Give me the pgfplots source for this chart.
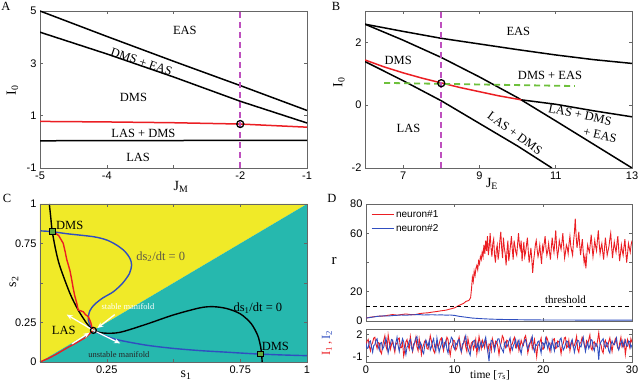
\documentclass[border=0pt]{standalone}
\usepackage{fontspec}
\setmainfont{Liberation Serif}
\newfontfamily\sansf{Liberation Sans}
\usepackage{pgfplots}
\usepackage{pgfplotstable}
\pgfplotsset{compat=1.18}
\usetikzlibrary{arrows.meta}

\definecolor{myyellow}{RGB}{240,234,40}
\definecolor{myteal}{RGB}{38,184,174}
\definecolor{myred}{RGB}{235,30,35}
\definecolor{myblue}{RGB}{48,78,192}
\definecolor{mymag}{RGB}{190,80,190}
\definecolor{mygreen}{RGB}{110,192,60}
\definecolor{sqgreen}{RGB}{95,170,60}
\definecolor{nullgray}{RGB}{95,90,70}

\pgfplotsset{
  base/.style={scale only axis, anchor=south west,
    axis line style={black!60, line width=0.5pt},
    major tick style={black!60, line width=0.5pt},
    major tick length=3pt, tick align=inside,
    tick label style={font=\sansf\fontsize{11}{12}\selectfont},
    /pgf/number format/assume math mode=true}
}
\tikzset{reg/.style={font=\fontsize{12.5}{13}\selectfont, inner sep=0pt}}

\pgfplotstableread[row sep=\\]{
t r\\
0 2\\ 0.5 2.6\\ 1 3\\ 1.5 3.3\\ 2 3.4\\ 2.5 3.9\\ 3 4.4\\ 3.5 4\\ 4 4.4\\ 4.5 4.8\\ 5 4.4\\ 5.5 4.3\\ 6 5\\ 6.5 5.4\\ 7 5.6\\ 7.5 6.1\\ 8 6.5\\ 8.5 7\\ 9 7.4\\ 9.5 8.2\\ 10 9\\ 10.3 10\\ 10.6 11\\ 11 12\\ 11.3 13.5\\ 11.6 14\\ 11.8 16\\ 11.9 22\\ 12.0 30\\ 12.1 27\\ 12.2 34\\ 12.3 31\\ 12.4 36\\ 12.5 38\\ 12.6 35\\ 12.7 41\\ 12.8 39\\ 12.9 44\\ 13.0 42\\ 13.1 47\\ 13.2 44\\ 13.3 52\\ 13.4 46\\ 13.5 55\\ 13.6 48\\ 13.7 58\\ 13.8 45\\ 13.9 51\\
14.0 60\\ 14.1 50\\ 14.2 44\\ 14.3 53\\ 14.4 56\\ 14.5 45\\ 14.6 40\\ 14.7 49\\ 14.8 52\\ 14.9 42\\ 15.0 47\\ 15.1 55\\ 15.2 61\\ 15.3 50\\ 15.4 43\\ 15.5 57\\ 15.6 50\\ 15.7 46\\ 15.8 38\\ 15.9 48\\ 16.0 55\\ 16.1 41\\ 16.2 46\\ 16.3 52\\ 16.4 58\\ 16.5 49\\ 16.6 42\\ 16.7 55\\ 16.8 51\\ 16.9 47\\ 17.0 45\\ 17.1 53\\ 17.2 60\\ 17.3 52\\ 17.4 49\\ 17.5 55\\ 17.6 41\\ 17.7 48\\ 17.8 54\\ 17.9 44\\ 18.0 47\\ 18.1 52\\ 18.2 57\\ 18.3 48\\ 18.4 40\\ 18.5 45\\ 18.6 50\\ 18.7 42\\ 18.8 33\\ 18.9 41\\ 19.0 46\\ 19.1 52\\ 19.2 55\\ 19.3 49\\ 19.4 44\\ 19.5 47\\ 19.6 52\\ 19.7 45\\ 19.8 39\\ 19.9 51\\ 20.0 48\\ 20.1 53\\ 20.2 58\\ 20.3 50\\ 20.4 45\\ 20.5 48\\ 20.6 53\\ 20.7 47\\ 20.8 42\\ 20.9 50\\ 21.0 57\\ 21.1 51\\ 21.2 47\\ 21.3 54\\ 21.4 62\\ 21.5 50\\ 21.6 44\\ 21.7 48\\ 21.8 55\\ 21.9 52\\ 22.0 49\\ 22.1 54\\ 22.2 60\\ 22.3 51\\ 22.4 43\\ 22.5 47\\ 22.6 52\\ 22.7 50\\ 22.8 46\\ 22.9 53\\ 23.0 58\\ 23.1 51\\ 23.2 48\\ 23.3 45\\ 23.4 54\\ 23.5 60\\ 23.6 70\\ 23.7 58\\ 23.8 50\\ 23.9 55\\ 24.0 61\\ 24.1 52\\ 24.2 45\\ 24.3 51\\ 24.4 56\\ 24.5 47\\ 24.6 40\\ 24.7 44\\ 24.8 36\\ 24.9 45\\ 25.0 52\\ 25.1 49\\ 25.2 47\\ 25.3 53\\ 25.4 59\\ 25.5 51\\ 25.6 44\\ 25.7 49\\ 25.8 55\\ 25.9 51\\ 26.0 48\\ 26.1 55\\ 26.2 62\\ 26.3 53\\ 26.4 46\\ 26.5 50\\ 26.6 53\\ 26.7 47\\ 26.8 42\\ 26.9 50\\ 27.0 57\\ 27.1 51\\ 27.2 45\\ 27.3 48\\ 27.4 51\\ 27.5 56\\ 27.6 60\\ 27.7 51\\ 27.8 43\\ 27.9 49\\ 28.0 54\\ 28.1 50\\ 28.2 47\\ 28.3 53\\ 28.4 58\\ 28.5 49\\ 28.6 41\\ 28.7 46\\ 28.8 52\\ 28.9 48\\ 29.0 45\\ 29.1 51\\ 29.2 56\\ 29.3 47\\ 29.4 40\\ 29.5 46\\ 29.6 53\\ 29.7 50\\ 29.8 47\\ 29.9 52\\ 30.0 55\\
}\redtop

\pgfplotstableread[row sep=\\]{
t r\\
0 2\\ 0.5 2.4\\ 1 2.9\\ 1.5 3.3\\ 2 3.5\\ 2.5 3.4\\ 3 3.7\\ 3.5 3.9\\ 4 4.1\\ 4.5 3.9\\ 5 4.2\\ 5.5 4.3\\ 6 4.4\\ 6.5 4.1\\ 7 4.2\\ 7.5 4.3\\ 8 4.1\\ 8.5 4.2\\ 9 4.0\\ 9.5 4.1\\ 10 3.8\\ 10.5 3.2\\ 11 2.8\\ 11.5 2.4\\ 12 2.0\\ 12.5 1.8\\ 13 1.6\\ 14 1.3\\ 15 1.1\\ 16 1.0\\ 18 0.8\\ 20 0.7\\ 22 0.7\\ 25 0.6\\ 28 0.6\\ 30 0.6\\
}\bluetop

\pgfplotstableread[row sep=\\]{
t a b\\
0 0.5 0.8\\ 0.125 1.1 0.1\\ 0.25 1.3 0.2\\ 0.375 0.4 1.0\\ 0.5 -0.2 1.1\\ 0.625 0.6 0.3\\ 0.75 0.9 -0.4\\ 0.875 1.5 0.5\\
1 1.6 0.6\\ 1.125 0.7 1.2\\ 1.25 0.1 1.4\\ 1.375 0.9 0.4\\ 1.5 0.8 -0.1\\ 1.625 -0.3 0.8\\ 1.75 -0.6 0.9\\ 1.875 0.5 0.0\\
2 1.2 0.3\\ 2.125 1.8 1.0\\ 2.25 0.4 1.5\\ 2.375 -0.1 0.6\\ 2.5 1.9 -0.5\\ 2.625 1.0 0.2\\ 2.75 0.0 0.7\\ 2.875 0.6 1.3\\
3 1.1 1.2\\ 3.125 0.3 0.4\\ 3.25 -0.4 0.0\\ 3.375 0.8 0.9\\ 3.5 0.7 1.6\\ 3.625 1.4 0.5\\ 3.75 1.5 -0.3\\ 3.875 0.2 0.6\\
4 0.2 0.8\\ 4.125 0.9 1.4\\ 4.25 -0.9 1.0\\ 4.375 -0.2 0.1\\ 4.5 1.0 -0.7\\ 4.625 1.3 0.3\\ 4.75 0.5 0.5\\ 4.875 0.0 1.1\\
5 1.7 1.3\\ 5.125 0.8 0.2\\ 5.25 -0.3 -0.2\\ 5.375 0.4 0.7\\ 5.5 0.9 0.9\\ 5.625 1.6 1.5\\ 5.75 0.3 1.7\\ 5.875 -0.2 0.4\\
6 1.4 0.1\\ 6.125 0.5 0.9\\ 6.25 -0.7 0.6\\ 6.375 0.2 -0.3\\ 6.5 0.6 -0.6\\ 6.625 1.1 0.5\\ 6.75 1.2 1.2\\ 6.875 0.1 0.8\\
7 0.0 0.4\\ 7.125 0.9 1.1\\ 7.25 1.8 -0.1\\ 7.375 1.1 0.3\\ 7.5 0.4 1.0\\ 7.625 -0.2 1.4\\ 7.75 -0.5 0.3\\ 7.875 0.6 -0.2\\
8 1.0 1.5\\ 8.125 0.2 0.6\\ 8.25 0.7 -0.4\\ 8.375 1.3 0.2\\ 8.5 1.5 0.7\\ 8.625 0.4 1.3\\ 8.75 -0.2 0.2\\ 8.875 0.9 0.5\\
9 0.8 1.1\\ 9.125 1.6 0.0\\ 9.25 1.3 -0.5\\ 9.375 0.0 0.7\\ 9.5 -0.8 0.9\\ 9.625 0.3 1.6\\ 9.75 0.6 1.4\\ 9.875 1.2 0.3\\
10 1.1 0.0\\ 10.125 -0.1 0.8\\ 10.25 0.2 0.6\\ 10.375 1.0 1.2\\ 10.5 1.6 1.3\\ 10.625 0.7 0.1\\ 10.75 -0.4 -0.3\\ 10.875 0.3 0.7\\
11 0.9 0.8\\ 11.125 1.5 1.3\\ 11.25 0.3 1.8\\ 11.375 -0.3 0.5\\ 11.5 1.4 0.1\\ 11.625 0.6 -0.4\\ 11.75 -0.1 -0.8\\ 11.875 0.8 0.4\\
12 1.0 0.7\\ 12.125 0.0 1.1\\ 12.25 0.5 1.2\\ 12.375 1.3 0.2\\ 12.5 -0.6 0.3\\ 12.625 0.4 0.9\\ 12.75 1.7 -0.2\\ 12.875 0.9 0.6\\
13 0.1 1.0\\ 13.125 1.2 0.3\\ 13.25 0.8 0.5\\ 13.375 0.2 1.1\\ 13.5 1.2 1.6\\ 13.625 0.6 0.4\\ 13.75 -0.3 -0.4\\ 13.875 0.7 -1.6\\
14 0.6 0.4\\ 14.125 -0.2 1.2\\ 14.25 1.4 1.1\\ 14.375 0.8 0.5\\ 14.5 0.0 -0.2\\ 14.625 1.1 0.6\\ 14.75 1.0 0.9\\ 14.875 0.3 1.4\\
15 -0.7 1.4\\ 15.125 0.4 0.7\\ 15.25 0.9 0.2\\ 15.375 1.8 -0.1\\ 15.5 1.5 -0.4\\ 15.625 0.5 0.8\\ 15.75 0.2 1.0\\ 15.875 1.2 0.3\\
16 1.1 0.6\\ 16.125 0.3 1.1\\ 16.25 -0.4 1.5\\ 16.375 0.6 0.4\\ 16.5 0.7 -0.1\\ 16.625 1.3 0.5\\ 16.75 1.6 0.8\\ 16.875 0.2 1.3\\
17 0.3 0.3\\ 17.125 1.0 0.9\\ 17.25 -0.2 1.2\\ 17.375 0.4 0.0\\ 17.5 1.2 -0.6\\ 17.625 0.7 0.4\\ 17.75 0.5 0.7\\ 17.875 1.5 1.1\\
18 1.8 1.3\\ 18.125 0.9 0.5\\ 18.25 -0.5 0.0\\ 18.375 0.2 0.6\\ 18.5 0.8 0.9\\ 18.625 1.4 1.2\\ 18.75 0.1 1.7\\ 18.875 0.6 0.2\\
19 1.3 -0.3\\ 19.125 0.2 0.6\\ 19.25 -1.0 0.5\\ 19.375 0.5 1.0\\ 19.5 0.6 1.1\\ 19.625 1.0 0.2\\ 19.75 1.5 -0.5\\ 19.875 0.0 0.9\\
20 0.0 0.8\\ 20.125 0.7 0.3\\ 20.25 0.9 1.4\\ 20.375 1.6 0.7\\ 20.5 1.2 0.1\\ 20.625 0.3 0.9\\ 20.75 -0.3 0.6\\ 20.875 0.8 -0.1\\
21 0.7 1.2\\ 21.125 1.3 0.5\\ 21.25 1.4 -0.2\\ 21.375 0.1 0.8\\ 21.5 0.2 0.9\\ 21.625 1.1 0.3\\ 21.75 1.0 0.4\\ 21.875 0.4 1.3\\
22 -0.6 1.5\\ 22.125 0.5 0.6\\ 22.25 0.8 -0.1\\ 22.375 1.5 0.2\\ 22.5 1.6 0.7\\ 22.625 0.2 1.1\\ 22.75 0.4 1.0\\ 22.875 1.2 0.2\\
23 -0.2 0.2\\ 23.125 0.6 0.9\\ 23.25 1.1 1.3\\ 23.375 0.3 0.5\\ 23.5 0.5 -0.4\\ 23.625 1.0 0.3\\ 23.75 1.7 0.8\\ 23.875 0.0 1.2\\
24 -0.4 1.1\\ 24.125 0.8 0.4\\ 24.25 0.9 0.3\\ 24.375 1.6 1.0\\ 24.5 1.3 1.6\\ 24.625 0.5 0.6\\ 24.75 0.1 -0.3\\ 24.875 1.1 0.4\\
25 0.7 0.9\\ 25.125 1.3 0.1\\ 25.25 1.9 0.5\\ 25.375 0.2 1.3\\ 25.5 -0.1 1.2\\ 25.625 0.9 0.2\\ 25.75 1.0 -0.2\\ 25.875 0.4 0.8\\
26 0.4 0.7\\ 26.125 1.2 0.3\\ 26.25 2.2 -1.4\\ 26.375 0.8 0.6\\ 26.5 0.6 1.0\\ 26.625 -0.2 1.2\\ 26.75 -0.5 1.4\\ 26.875 0.9 0.5\\
27 1.2 0.2\\ 27.125 0.4 0.9\\ 27.25 0.3 0.8\\ 27.375 1.0 -0.2\\ 27.5 1.5 -0.5\\ 27.625 0.6 0.6\\ 27.75 -0.3 1.1\\ 27.875 0.7 0.7\\
28 0.8 0.6\\ 28.125 1.4 1.0\\ 28.25 1.1 1.5\\ 28.375 0.2 0.3\\ 28.5 0.0 -0.1\\ 28.625 0.9 0.4\\ 28.75 1.6 0.9\\ 28.875 0.3 1.2\\
29 0.5 0.3\\ 29.125 1.1 0.7\\ 29.25 -0.7 1.2\\ 29.375 0.4 0.5\\ 29.5 1.3 0.4\\ 29.625 0.8 1.1\\ 29.75 0.2 1.0\\ 29.875 1.4 0.2\\
30 0.9 0.6\\
}\bottomdata

\begin{document}
\begin{tikzpicture}
\useasboundingbox (0,0) rectangle (640pt,385pt);

% ---------------- Panel A ----------------
\begin{axis}[base, at={(40pt,217pt)}, width=267pt, height=157pt,
  xmin=-5, xmax=-1, ymin=-1, ymax=5,
  xtick={-5,-4,-3,-2,-1}, xticklabels={-5,-4,,-2,-1},
  ytick={-1,1,3,5}, yticklabels={-1,1,3,5}]
\addplot[black, line width=1.5pt] coordinates {(-5,5) (-4,4.03) (-3,3.08) (-2,2.15) (-1,1.2)};
\addplot[black, line width=1.5pt] coordinates {(-5,4.19) (-4,3.36) (-3,2.48) (-2,1.55) (-1,0.72)};
\addplot[myred, line width=1.5pt] coordinates {(-5,0.78) (-4,0.76) (-3,0.73) (-2,0.68) (-1,0.56)};
\addplot[black, line width=1.5pt] coordinates {(-5,0.04) (-3,0.05) (-1,0.06)};
\addplot[mymag, line width=1.8pt, dash pattern=on 6pt off 4pt] coordinates {(-2,-1) (-2,5)};
\addplot[only marks, mark=o, mark size=3.5pt, mark options={black, line width=1.3pt}] coordinates {(-2,0.68)};
\node[reg] at (axis cs:-2.83,4.24) {EAS};
\node[reg, rotate=-19] at (axis cs:-3.48,3.06) {DMS + EAS};
\node[reg] at (axis cs:-3.6,1.71) {DMS};
\node[reg] at (axis cs:-3.45,0.34) {LAS + DMS};
\node[reg] at (axis cs:-3.53,-0.58) {LAS};
\end{axis}

% ---------------- Panel B ----------------
\begin{axis}[base, at={(365pt,217pt)}, width=267pt, height=157pt,
  xmin=6, xmax=13, ymin=-2, ymax=3,
  xtick={7,9,11,13}, ytick={-2,0,2}, yticklabels={-2,0,2}]
\addplot[black, line width=1.5pt] coordinates {(6,2.58) (7,2.35) (8,2.13) (9,1.95) (10,1.77) (11,1.6) (12,1.45) (13,1.33)};
\addplot[black, line width=1.5pt] coordinates {(6,2.58) (7,2.07) (8,1.52) (9,0.9) (10,0.24) (11,-0.5) (12,-1.25) (13,-2)};
\addplot[black, line width=1.5pt] coordinates {(10.1,0.17) (11,0.03) (12,-0.18) (13,-0.37)};
\addplot[black, line width=1.5pt] coordinates {(6,1.39) (7,0.78) (8,0.14) (9,-0.58) (10,-1.3) (10.9,-2)};
\addplot[myred, line width=1.5pt] coordinates {(6,1.44) (6.5,1.22) (7,1.03) (7.5,0.86) (8,0.71) (8.5,0.56) (9,0.43) (9.5,0.3) (10.1,0.17)};
\addplot[mygreen, line width=1.8pt, dash pattern=on 6pt off 4pt] coordinates {(6.5,0.71) (11.5,0.61)};
\addplot[mymag, line width=1.8pt, dash pattern=on 6pt off 4pt] coordinates {(8,-2) (8,3)};
\addplot[only marks, mark=o, mark size=3.5pt, mark options={black, line width=1.3pt}] coordinates {(8,0.7)};
\node[reg] at (axis cs:10.02,2.34) {EAS};
\node[reg] at (axis cs:6.87,1.44) {DMS};
\node[reg] at (axis cs:10.85,0.96) {DMS + EAS};
\node[reg] at (axis cs:7.14,-0.74) {LAS};
\node[reg, rotate=-36] at (axis cs:9.93,-0.9) {LAS + DMS};
\node[reg, rotate=-12] at (axis cs:11.64,-0.31) {LAS + DMS};
\node[reg, rotate=-12] at (axis cs:12.16,-0.95) {+ EAS};
\end{axis}

% ---------------- Panel C ----------------
\begin{axis}[base, at={(40pt,23pt)}, width=267pt, height=158pt,
  xmin=0, xmax=1, ymin=0, ymax=1, axis on top,
  xtick={0,0.25,0.5,0.75,1}, xticklabels={,0.25,,0.75,1},
  ytick={0,0.25,0.5,0.75,1}, yticklabels={0,0.25,,0.75,1}]
\addplot[fill=myyellow, draw=none] coordinates {(0,0) (0,1) (1,1)} -- cycle;
\addplot[fill=myteal, draw=none] coordinates {(0,0) (1,1) (1,0)} -- cycle;
\addplot[myblue, line width=1.4pt, smooth] coordinates {(0,0.83) (0.046,0.825) (0.1,0.812) (0.2,0.793) (0.25,0.772) (0.287,0.74) (0.318,0.7) (0.337,0.655) (0.343,0.614) (0.335,0.56) (0.31,0.5) (0.275,0.445) (0.235,0.405) (0.205,0.365) (0.187,0.325) (0.181,0.266) (0.2,0.2) (0.25,0.162) (0.3,0.137) (0.4,0.106) (0.5,0.086) (0.6,0.072) (0.7,0.062) (0.8,0.052) (0.9,0.045) (1.0,0.04)};
\addplot[black, line width=1.4pt, smooth] coordinates {(0.035,1.0) (0.04,0.92) (0.046,0.825) (0.06,0.7) (0.075,0.603) (0.112,0.435) (0.143,0.329) (0.175,0.245) (0.2,0.2) (0.24,0.183) (0.3,0.188) (0.4,0.24) (0.5,0.298) (0.6,0.343) (0.65,0.35) (0.7,0.338) (0.75,0.305) (0.79,0.245) (0.815,0.17) (0.826,0.1) (0.83,0.05) (0.832,0.0)};
\addplot[myred, line width=1.4pt] coordinates {(0,0) (0.03,0.022) (0.06,0.048) (0.1,0.088) (0.14,0.125) (0.17,0.155) (0.19,0.185) (0.2,0.2) (0.194,0.223) (0.19,0.25) (0.181,0.287) (0.17,0.3) (0.162,0.318) (0.143,0.329) (0.138,0.37) (0.13,0.42) (0.124,0.47) (0.119,0.519) (0.112,0.58) (0.1,0.65) (0.094,0.7) (0.087,0.751) (0.07,0.8) (0.056,0.818) (0.046,0.825)};
\draw[white, line width=1.3pt, -{Stealth[length=6pt,width=5pt]}] (axis cs:0.2,0.2) -- (axis cs:0.1,0.3);
\draw[white, line width=1.3pt, -{Stealth[length=6pt,width=5pt]}] (axis cs:0.2,0.2) -- (axis cs:0.3,0.118);
\draw[white, line width=1.3pt, -{Stealth[length=6pt,width=5pt]}] (axis cs:0.28,0.3) -- (axis cs:0.215,0.215);
\draw[white, line width=1.3pt, -{Stealth[length=6pt,width=5pt]}] (axis cs:0.12,0.115) -- (axis cs:0.185,0.185);
\addplot[only marks, mark=square*, mark size=2.8pt, mark options={fill=sqgreen, draw=black, line width=1.1pt}] coordinates {(0.046,0.825) (0.826,0.051)};
\addplot[only marks, mark=o, mark size=3pt, mark options={black, line width=1.2pt}] coordinates {(0.2,0.2)};
\node[reg, anchor=west] at (axis cs:0.06,0.865) {DMS};
\node[reg, anchor=west, text=nullgray] at (axis cs:0.36,0.667) {ds\textsubscript{2}/dt = 0};
\node[anchor=west, inner sep=0pt, text=white, font=\fontsize{8.5}{9}\selectfont] at (axis cs:0.23,0.354) {stable manifold};
\node[reg, anchor=west] at (axis cs:0.724,0.34) {ds\textsubscript{1}/dt = 0};
\node[reg, anchor=west] at (axis cs:0.044,0.2) {LAS};
\node[anchor=west, inner sep=0pt, text=black!85, font=\fontsize{8.5}{9}\selectfont] at (axis cs:0.18,0.044) {unstable manifold};
\node[reg, anchor=west] at (axis cs:0.83,0.10) {DMS};
\end{axis}

% ---------------- Panel D top ----------------
\begin{axis}[base, at={(366pt,64pt)}, width=266pt, height=117pt,
  xmin=0, xmax=30, ymin=0, ymax=80,
  xtick={0,10,20,30}, xticklabels={},
  ytick={0,20,40,60,80}, yticklabels={0,20,,60,80},
  legend style={at={(rel axis cs:0.015,0.97)}, anchor=north west, draw=none, fill=none,
    font=\sansf\fontsize{10}{11}\selectfont, row sep=1pt, inner sep=1pt},
  legend cell align=left,
  legend image code/.code={\draw[#1] (0pt,0pt) -- (22pt,0pt);}]
\addplot[myred, line width=0.9pt] table[x=t, y=r] {\redtop};
\addlegendentry{neuron\#1}
\addplot[myblue, line width=0.9pt] table[x=t, y=r] {\bluetop};
\addlegendentry{neuron\#2}
\addplot[black, line width=1.1pt, dash pattern=on 4pt off 3pt, forget plot] coordinates {(0,10) (30,10)};
\node[font=\fontsize{11}{12}\selectfont, inner sep=0pt] at (axis cs:22.5,14.6) {threshold};
\end{axis}

% ---------------- Panel D bottom ----------------
\begin{axis}[base, at={(366pt,23pt)}, width=266pt, height=33pt,
  xmin=0, xmax=30, ymin=-1.7, ymax=2.7,
  xtick={0,10,20,30}, ytick={-1,2}, yticklabels={-1,2}]
\addplot[myred, line width=0.9pt] table[x=t, y=a] {\bottomdata};
\addplot[myblue, line width=0.9pt] table[x=t, y=b] {\bottomdata};
\end{axis}

% ---------------- labels ----------------
\node[font=\fontsize{12.5}{13}\selectfont] at (6pt,378.5pt) {A};
\node[font=\fontsize{12.5}{13}\selectfont] at (336pt,378.5pt) {B};
\node[font=\fontsize{12.5}{13}\selectfont] at (7pt,187pt) {C};
\node[font=\fontsize{12.5}{13}\selectfont] at (332pt,187pt) {D};
\node[rotate=90, font=\fontsize{14}{14}\selectfont] at (12.5pt,295pt) {I\textsubscript{0}};
\node[font=\fontsize{14}{14}\selectfont] at (181pt,198pt) {J\textsubscript{M}};
\node[rotate=90, font=\fontsize{14}{14}\selectfont] at (339pt,303pt) {I\textsubscript{0}};
\node[font=\fontsize{14}{14}\selectfont] at (492pt,201pt) {J\textsubscript{E}};
\node[rotate=90, font=\fontsize{14}{14}\selectfont] at (14pt,103pt) {s\textsubscript{2}};
\node[font=\fontsize{14}{14}\selectfont] at (186pt,10pt) {s\textsubscript{1}};
\node[font=\fontsize{15}{15}\selectfont] at (334pt,124pt) {r};
\node[rotate=90, font=\fontsize{12.5}{13}\selectfont] at (327pt,42pt) {\textcolor{myred}{I\textsubscript{1}\,,}\,\textcolor{myblue}{I\textsubscript{2}}};
\node[font=\fontsize{11.5}{12}\selectfont] at (490pt,10pt) {time [$\tau_{\mathrm{s}}$]};
\end{tikzpicture}
\end{document}
